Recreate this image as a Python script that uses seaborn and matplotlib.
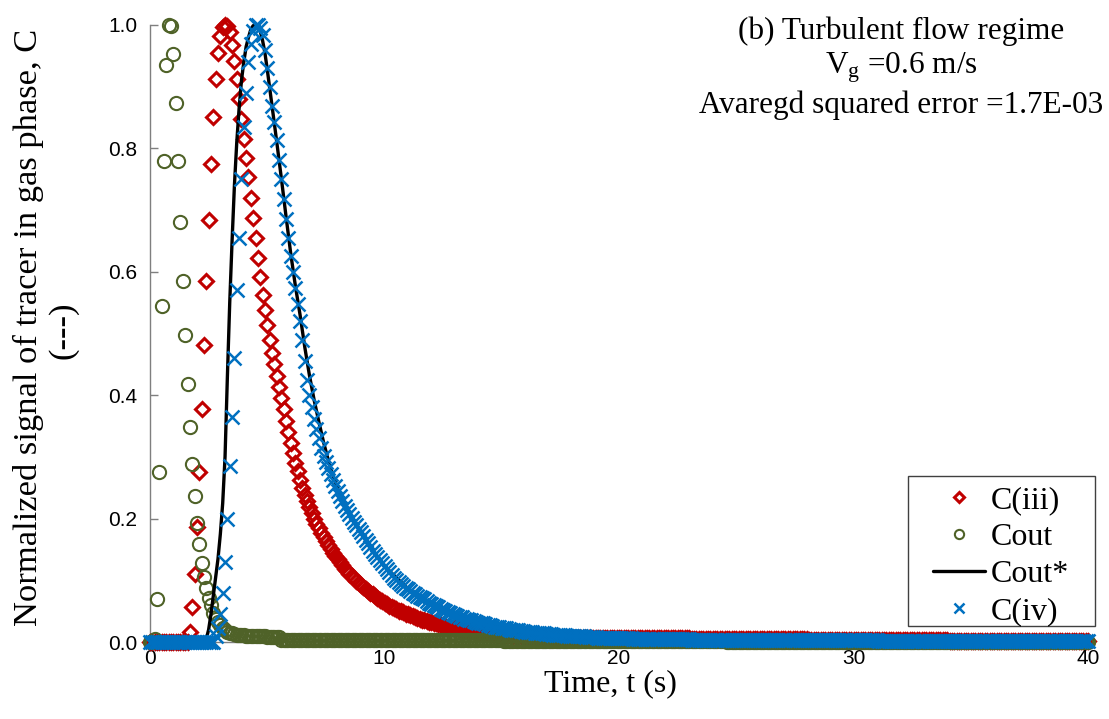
import numpy as np
import matplotlib
matplotlib.use("Agg")
import matplotlib.pyplot as plt
from matplotlib.patches import Rectangle
import seaborn as sns

# sampling grid (s): one reading every 0.1 s from 0 to 40 s
time = np.round(np.arange(0.0, 40.05, 0.1), 1)

# C(iii), 0 - 10 s
c_iii_fine = [
    0, 0, 0, 0, 0, 0, 0, 0, 0, 0,
    0, 0, 0, 0, 0, 0, 0, 0.017, 0.057, 0.111,
    0.187, 0.276, 0.377, 0.482, 0.585, 0.684, 0.774, 0.851, 0.912, 0.954,
    0.982, 0.996, 1.0, 0.998, 0.988, 0.967, 0.942, 0.912, 0.880, 0.847,
    0.815, 0.784, 0.753, 0.719, 0.687, 0.654, 0.622, 0.592, 0.562, 0.538,
    0.514, 0.489, 0.469, 0.450, 0.431, 0.413, 0.395, 0.377, 0.358, 0.340,
    0.323, 0.306, 0.290, 0.277, 0.263, 0.250, 0.238, 0.228, 0.218, 0.209,
    0.200, 0.192, 0.184, 0.177, 0.170, 0.163, 0.157, 0.151, 0.145, 0.139,
    0.134, 0.129, 0.124, 0.119, 0.115, 0.111, 0.107, 0.103, 0.099, 0.096,
    0.092, 0.089, 0.086, 0.083, 0.080, 0.077, 0.074, 0.071, 0.068, 0.066,
    0.063,
]
# 10.1 - 40 s
c_iii_tail = [
    0.061, 0.059, 0.057, 0.055, 0.053, 0.051, 0.050, 0.048, 0.046, 0.045,
    0.043, 0.042, 0.040, 0.039, 0.038, 0.036, 0.035, 0.034, 0.033, 0.032,
    0.031, 0.030, 0.029, 0.028, 0.027, 0.026, 0.025, 0.024, 0.023, 0.022,
    0.022, 0.021, 0.020, 0.020, 0.019, 0.018, 0.018, 0.017, 0.016, 0.016,
    0.015, 0.015, 0.014, 0.014, 0.013, 0.013, 0.013, 0.012, 0.012, 0.011,
    0.011, 0.011, 0.011, 0.010, 0.010, 0.010, 0.010, 0.009, 0.009, 0.009,
    0.009, 0.009, 0.008, 0.008, 0.008, 0.008, 0.008, 0.008, 0.007, 0.007,
    0.007, 0.007, 0.007, 0.007, 0.007, 0.007, 0.007, 0.007, 0.007, 0.007,
    0.007, 0.007, 0.007, 0.007, 0.007, 0.006, 0.006, 0.006, 0.006, 0.006,
    0.006, 0.006, 0.006, 0.006, 0.006, 0.006, 0.006, 0.006, 0.006, 0.006,
    0.006, 0.006, 0.006, 0.006, 0.006, 0.006, 0.006, 0.006, 0.006, 0.006,
    0.006, 0.006, 0.006, 0.006, 0.006, 0.006, 0.006, 0.006, 0.006, 0.006,
    0.006, 0.006, 0.006, 0.006, 0.006, 0.006, 0.006, 0.006, 0.006, 0.006,
    0.005, 0.005, 0.005, 0.005, 0.005, 0.005, 0.005, 0.005, 0.005, 0.005,
    0.005, 0.005, 0.005, 0.005, 0.005, 0.005, 0.005, 0.005, 0.005, 0.005,
    0.005, 0.005, 0.005, 0.005, 0.005, 0.005, 0.005, 0.005, 0.005, 0.005,
    0.005, 0.005, 0.005, 0.005, 0.005, 0.005, 0.005, 0.005, 0.005, 0.005,
    0.005, 0.005, 0.005, 0.005, 0.005, 0.005, 0.005, 0.005, 0.005, 0.005,
    0.004, 0.004, 0.004, 0.004, 0.004, 0.004, 0.004, 0.004, 0.004, 0.004,
    0.004, 0.004, 0.004, 0.004, 0.004, 0.004, 0.004, 0.004, 0.004, 0.004,
    0.004, 0.004, 0.004, 0.004, 0.004, 0.004, 0.004, 0.004, 0.004, 0.004,
    0.003, 0.003, 0.003, 0.003, 0.003, 0.003, 0.003, 0.003, 0.003, 0.003,
    0.003, 0.003, 0.003, 0.003, 0.003, 0.003, 0.003, 0.003, 0.003, 0.003,
    0.003, 0.003, 0.003, 0.003, 0.003, 0.003, 0.003, 0.003, 0.003, 0.003,
    0.002, 0.002, 0.002, 0.002, 0.002, 0.002, 0.002, 0.002, 0.002, 0.002,
    0.002, 0.002, 0.002, 0.002, 0.002, 0.002, 0.002, 0.002, 0.002, 0.002,
    0.002, 0.002, 0.002, 0.002, 0.002, 0.002, 0.002, 0.002, 0.002, 0.002,
    0.002, 0.002, 0.002, 0.002, 0.002, 0.002, 0.002, 0.002, 0.002, 0.002,
    0.002, 0.002, 0.002, 0.002, 0.002, 0.002, 0.002, 0.002, 0.002, 0.002,
    0.002, 0.002, 0.002, 0.002, 0.002, 0.002, 0.002, 0.002, 0.002, 0.002,
]

# Cout, 0 - 10 s
c_out_fine = [
    0.0, 0.0, 0.005, 0.07, 0.275, 0.545, 0.78, 0.935, 1.0, 0.998,
    0.953, 0.874, 0.78, 0.68, 0.585, 0.497, 0.418, 0.348, 0.288, 0.237,
    0.193, 0.159, 0.128, 0.105, 0.088, 0.071, 0.060, 0.047, 0.038, 0.032,
    0.027, 0.023, 0.020, 0.017, 0.015, 0.014, 0.013, 0.012, 0.012, 0.011,
    0.011, 0.010, 0.010, 0.010, 0.009, 0.009, 0.009, 0.009, 0.009, 0.009,
    0.008, 0.008, 0.008, 0.008, 0.008, 0.008, 0.004, 0.004, 0.004, 0.004,
    0.004, 0.004, 0.004, 0.004, 0.004, 0.004, 0.004, 0.004, 0.004, 0.004,
    0.004, 0.004, 0.004, 0.004, 0.004, 0.004, 0.004, 0.004, 0.004, 0.004,
    0.003, 0.003, 0.003, 0.003, 0.003, 0.003, 0.003, 0.003, 0.003, 0.003,
    0.003, 0.003, 0.003, 0.003, 0.003, 0.003, 0.003, 0.003, 0.003, 0.003,
    0.003,
]
# 10.1 - 40 s
c_out_tail = [
    0.003, 0.003, 0.003, 0.003, 0.003, 0.003, 0.003, 0.003, 0.003, 0.003,
    0.003, 0.003, 0.003, 0.003, 0.003, 0.003, 0.003, 0.003, 0.003, 0.003,
    0.003, 0.003, 0.003, 0.003, 0.003, 0.003, 0.003, 0.003, 0.003, 0.003,
    0.003, 0.003, 0.003, 0.003, 0.003, 0.003, 0.003, 0.003, 0.003, 0.003,
    0.003, 0.003, 0.003, 0.003, 0.003, 0.003, 0.003, 0.003, 0.003, 0.003,
    0.002, 0.002, 0.002, 0.002, 0.002, 0.002, 0.002, 0.002, 0.002, 0.002,
    0.002, 0.002, 0.002, 0.002, 0.002, 0.002, 0.002, 0.002, 0.002, 0.002,
    0.002, 0.002, 0.002, 0.002, 0.002, 0.002, 0.002, 0.002, 0.002, 0.002,
    0.002, 0.002, 0.002, 0.002, 0.002, 0.002, 0.002, 0.002, 0.002, 0.002,
    0.002, 0.002, 0.002, 0.002, 0.002, 0.002, 0.002, 0.002, 0.002, 0.002,
    0.001, 0.001, 0.001, 0.001, 0.001, 0.001, 0.001, 0.001, 0.001, 0.001,
    0.001, 0.001, 0.001, 0.001, 0.001, 0.001, 0.001, 0.001, 0.001, 0.001,
    0.001, 0.001, 0.001, 0.001, 0.001, 0.001, 0.001, 0.001, 0.001, 0.001,
    0.001, 0.001, 0.001, 0.001, 0.001, 0.001, 0.001, 0.001, 0.001, 0.001,
    0.001, 0.001, 0.001, 0.001, 0.001, 0.0, 0.0, 0.0, 0.0, 0.0,
    0.0, 0.0, 0.0, 0.0, 0.0, 0.0, 0.0, 0.0, 0.0, 0.0,
    0.0, 0.0, 0.0, 0.0, 0.0, 0.0, 0.0, 0.0, 0.0, 0.0,
    0.0, 0.0, 0.0, 0.0, 0.0, 0.0, 0.0, 0.0, 0.0, 0.0,
    0.0, 0.0, 0.0, 0.0, 0.0, 0.0, 0.0, 0.0, 0.0, 0.0,
    0.0, 0.0, 0.0, 0.0, 0.0, 0.0, 0.0, 0.0, 0.0, 0.0,
    0.0, 0.0, 0.0, 0.0, 0.0, 0.0, 0.0, 0.0, 0.0, 0.0,
    0.0, 0.0, 0.0, 0.0, 0.0, 0.0, 0.0, 0.0, 0.0, 0.0,
    0.0, 0.0, 0.0, 0.0, 0.0, 0.0, 0.0, 0.0, 0.0, 0.0,
    0.0, 0.0, 0.0, 0.0, 0.0, 0.0, 0.0, 0.0, 0.0, 0.0,
    0.0, 0.0, 0.0, 0.0, 0.0, 0.0, 0.0, 0.0, 0.0, 0.0,
    0.0, 0.0, 0.0, 0.0, 0.0, 0.0, 0.0, 0.0, 0.0, 0.0,
    0.0, 0.0, 0.0, 0.0, 0.0, 0.0, 0.0, 0.0, 0.0, 0.0,
    0.0, 0.0, 0.0, 0.0, 0.0, 0.0, 0.0, 0.0, 0.0, 0.0,
    0.0, 0.0, 0.0, 0.0, 0.0, 0.0, 0.0, 0.0, 0.0, 0.0,
    0.0, 0.0, 0.0, 0.0, 0.0, 0.0, 0.0, 0.0, 0.0, 0.0,
]

# C(iv), 0 - 10 s
c_iv_fine = [
    0, 0, 0, 0, 0, 0, 0, 0, 0, 0,
    0, 0, 0, 0, 0, 0, 0, 0, 0, 0,
    0, 0, 0, 0, 0, 0, 0, 0, 0.010, 0.022,
    0.045, 0.080, 0.130, 0.200, 0.285, 0.365, 0.460, 0.570, 0.655, 0.750,
    0.835, 0.890, 0.940, 0.970, 0.990, 1.0, 1.0, 0.995, 0.984, 0.960,
    0.930, 0.900, 0.868, 0.842, 0.813, 0.782, 0.751, 0.718, 0.686, 0.655,
    0.626, 0.600, 0.573, 0.548, 0.520, 0.490, 0.455, 0.425, 0.400, 0.381,
    0.362, 0.345, 0.330, 0.314, 0.302, 0.292, 0.282, 0.272, 0.263, 0.253,
    0.244, 0.236, 0.228, 0.221, 0.214, 0.208, 0.201, 0.195, 0.189, 0.183,
    0.178, 0.172, 0.166, 0.160, 0.154, 0.148, 0.143, 0.138, 0.133, 0.128,
    0.123,
]
# 10.1 - 40 s
c_iv_tail = [
    0.118, 0.113, 0.109, 0.104, 0.100, 0.097, 0.094, 0.091, 0.088, 0.086,
    0.083, 0.080, 0.078, 0.075, 0.073, 0.071, 0.069, 0.067, 0.064, 0.062,
    0.060, 0.058, 0.056, 0.054, 0.052, 0.050, 0.049, 0.047, 0.045, 0.044,
    0.042, 0.041, 0.040, 0.038, 0.037, 0.036, 0.035, 0.034, 0.032, 0.031,
    0.030, 0.030, 0.029, 0.028, 0.027, 0.026, 0.025, 0.025, 0.024, 0.023,
    0.022, 0.022, 0.021, 0.020, 0.020, 0.019, 0.019, 0.018, 0.018, 0.017,
    0.017, 0.016, 0.016, 0.015, 0.015, 0.015, 0.014, 0.014, 0.013, 0.013,
    0.013, 0.012, 0.012, 0.012, 0.011, 0.011, 0.011, 0.010, 0.010, 0.010,
    0.010, 0.009, 0.009, 0.009, 0.009, 0.008, 0.008, 0.008, 0.008, 0.008,
    0.007, 0.007, 0.007, 0.007, 0.007, 0.006, 0.006, 0.006, 0.006, 0.006,
    0.006, 0.006, 0.006, 0.006, 0.006, 0.005, 0.005, 0.005, 0.005, 0.005,
    0.005, 0.005, 0.005, 0.005, 0.005, 0.005, 0.005, 0.005, 0.005, 0.005,
    0.005, 0.005, 0.005, 0.005, 0.005, 0.005, 0.005, 0.005, 0.005, 0.005,
    0.004, 0.004, 0.004, 0.004, 0.004, 0.004, 0.004, 0.004, 0.004, 0.004,
    0.004, 0.004, 0.004, 0.004, 0.004, 0.004, 0.004, 0.004, 0.004, 0.004,
    0.004, 0.004, 0.004, 0.004, 0.004, 0.004, 0.004, 0.004, 0.004, 0.004,
    0.004, 0.004, 0.004, 0.004, 0.004, 0.004, 0.004, 0.004, 0.004, 0.004,
    0.004, 0.004, 0.004, 0.004, 0.004, 0.004, 0.004, 0.004, 0.004, 0.004,
    0.003, 0.003, 0.003, 0.003, 0.003, 0.003, 0.003, 0.003, 0.003, 0.003,
    0.003, 0.003, 0.003, 0.003, 0.003, 0.003, 0.003, 0.003, 0.003, 0.003,
    0.003, 0.003, 0.003, 0.003, 0.003, 0.003, 0.003, 0.003, 0.003, 0.003,
    0.002, 0.002, 0.002, 0.002, 0.002, 0.002, 0.002, 0.002, 0.002, 0.002,
    0.002, 0.002, 0.002, 0.002, 0.002, 0.002, 0.002, 0.002, 0.002, 0.002,
    0.002, 0.002, 0.002, 0.002, 0.002, 0.002, 0.002, 0.002, 0.002, 0.002,
    0.001, 0.001, 0.001, 0.001, 0.001, 0.001, 0.001, 0.001, 0.001, 0.001,
    0.001, 0.001, 0.001, 0.001, 0.001, 0.001, 0.001, 0.001, 0.001, 0.001,
    0.001, 0.001, 0.001, 0.001, 0.001, 0.001, 0.001, 0.001, 0.001, 0.001,
    0.001, 0.001, 0.001, 0.001, 0.001, 0.001, 0.001, 0.001, 0.001, 0.001,
    0.001, 0.001, 0.001, 0.001, 0.001, 0.001, 0.001, 0.001, 0.001, 0.001,
    0.001, 0.001, 0.001, 0.001, 0.001, 0.001, 0.001, 0.001, 0.001, 0.001,
]

# Cout* model curve
c_star_t = [0, 2.3, 2.4, 2.5, 2.6, 2.7, 2.8, 2.9, 3.0,
            3.1, 3.2, 3.3, 3.4, 3.5, 3.6, 3.7, 3.8, 3.9, 4.0,
            4.1, 4.2, 4.3, 4.4, 4.5, 4.6, 4.7, 4.8, 4.9, 5.0,
            5.2, 5.4, 5.6, 5.8, 6.0, 6.2, 6.4, 6.6, 6.8, 7.0,
            7.2, 7.4, 7.6, 7.8, 8.0, 8.2, 8.4, 8.8, 9.2, 9.6, 10,
            11, 12, 13, 14, 15, 16, 18, 20, 25, 30, 40]
c_star = [0, 0, 0.005, 0.02, 0.045, 0.075, 0.105, 0.135, 0.175,
          0.225, 0.3, 0.43, 0.55, 0.65, 0.74, 0.81, 0.865, 0.91, 0.94,
          0.965, 0.98, 0.993, 0.999, 1.0, 0.998, 0.99, 0.975, 0.955, 0.928,
          0.87, 0.812, 0.752, 0.69, 0.63, 0.577, 0.53, 0.478, 0.432, 0.392,
          0.357, 0.324, 0.295, 0.27, 0.249, 0.23, 0.214, 0.19, 0.166, 0.143, 0.123,
          0.086, 0.062, 0.044, 0.031, 0.023, 0.017, 0.010, 0.006, 0.003, 0.002, 0.002]

c_iii = c_iii_fine + c_iii_tail
c_out = c_out_fine + c_out_tail
c_iv = c_iv_fine + c_iv_tail

RED = "#C00000"
GREEN = "#4F6228"
BLUE = "#0070C0"

sns.set_theme(style="white")
plt.rcParams["font.family"] = ["Liberation Serif", "DejaVu Serif"]
plt.rcParams["mathtext.fontset"] = "custom"
plt.rcParams["mathtext.rm"] = "Liberation Serif"
plt.rcParams["mathtext.it"] = "Liberation Serif:italic"
for key in ["text.color", "axes.labelcolor", "xtick.labelcolor", "ytick.labelcolor"]:
    plt.rcParams[key] = "black"

W, H = 1109, 719
fig = plt.figure(figsize=(W / 100, H / 100), dpi=100)
ax = fig.add_axes([150 / W, 1 - 642 / H, (1088 - 150) / W, (642 - 25) / H])

sns.lineplot(x=time, y=c_iii, ax=ax, color=RED, marker="D", linestyle="",
             markersize=7.2, mfc="none", mec=RED, mew=2.2, clip_on=False,
             errorbar=None, label="C(iii)", zorder=3)
sns.lineplot(x=time, y=c_out, ax=ax, color=GREEN, marker="o", linestyle="",
             markersize=9.5, mfc="none", mec=GREEN, mew=1.5, clip_on=False,
             errorbar=None, label="Cout", zorder=4)
sns.lineplot(x=c_star_t, y=c_star, ax=ax, color="black", linewidth=2.4,
             clip_on=False, errorbar=None, label="Cout*", zorder=5)
sns.lineplot(x=time, y=c_iv, ax=ax, color=BLUE, marker="x", linestyle="",
             markersize=9.5, mec=BLUE, mew=1.8, clip_on=False,
             errorbar=None, label="C(iv)", zorder=6)

ax.set_xlim(0, 40)
ax.set_ylim(0, 1.0)
ax.set_xticks([0, 10, 20, 30, 40])
ax.set_yticks([0, 0.2, 0.4, 0.6, 0.8, 1.0])
ax.set_yticklabels([f"{v:.1f}" for v in [0, 0.2, 0.4, 0.6, 0.8, 1.0]])
ax.tick_params(axis="both", direction="in", length=5.5, width=1, color="#7f7f7f",
               labelsize=15, left=True, bottom=True)
ax.tick_params(axis="y", pad=9)
ax.tick_params(axis="x", pad=5)
for lab in ax.get_xticklabels() + ax.get_yticklabels():
    lab.set_fontfamily("Liberation Sans")
ax.set_xlabel("")
ax.set_ylabel("")
sns.despine(ax=ax)
for side in ["left", "bottom"]:
    ax.spines[side].set_color("#7f7f7f")
    ax.spines[side].set_linewidth(1.0)

# legend box drawn separately so its margins match the original
box = Rectangle((908 / W, 1 - 626 / H), (1095 - 908) / W, 150 / H,
                transform=fig.transFigure, facecolor="white", edgecolor="#404040",
                linewidth=1.0, zorder=10, clip_on=False)
ax.add_patch(box)
handles, labels = ax.get_legend_handles_labels()
leg = ax.legend(handles, labels, loc="upper left",
                bbox_to_anchor=(933 / W, 1 - 486 / H), bbox_transform=fig.transFigure,
                borderaxespad=0, borderpad=0, frameon=False, fontsize=23,
                handlelength=1.62, handletextpad=0.2, labelspacing=0.235,
                markerscale=0.7)
leg.set_zorder(11)

fig.text(901 / W, 1 - 16 / H,
         "(b) Turbulent flow regime\nV$_\\mathrm{g}$ =0.6 m/s\nAvaregd squared error =1.7E-03",
         ha="center", va="top", multialignment="center", fontsize=22.5, linespacing=1.22)
fig.text(28 / W, 1 - 327 / H, "Normalized signal of tracer in gas phase, C",
         rotation=90, ha="center", va="center", fontsize=24.8)
fig.text(63 / W, 1 - 330 / H, "(---)",
         rotation=90, ha="center", va="center", fontsize=24.8)
fig.text(610 / W, 1 - 684 / H, "Time, t (s)", ha="center", va="center", fontsize=23)

fig.savefig("out.png", dpi=100)
